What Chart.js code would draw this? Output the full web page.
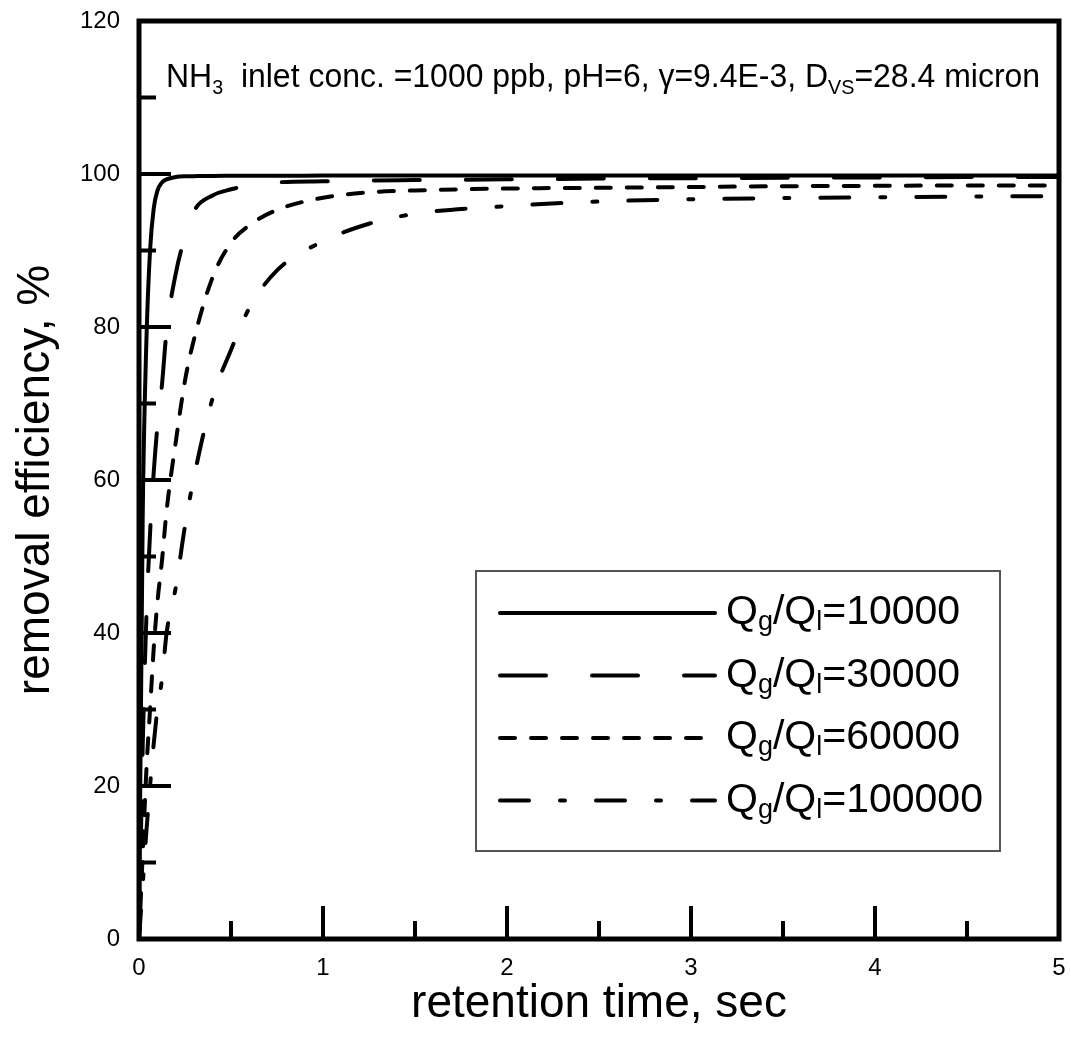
<!DOCTYPE html>
<html>
<head>
<meta charset="utf-8">
<script src="https://cdn.jsdelivr.net/npm/chart.js@4.4.1/dist/chart.umd.min.js"></script>
<style>
  html, body { margin: 0; padding: 0; background: #fff; }
  #wrap { width: 1071px; height: 1037px; position: relative; }
</style>
</head>
<body>
<div id="wrap"><canvas id="removal"></canvas></div>
<script>
(function(){
  // retention time, sec
  const times = [0, 0.02, 0.04, 0.06, 0.08, 0.1, 0.125, 0.15, 0.2, 0.25, 0.3, 0.4, 0.5,
    0.6, 0.75, 1, 1.25, 1.5, 2, 2.5, 3, 3.5, 4, 4.5, 5];

  // removal efficiency, % (one list per Qg/Ql ratio)
  const q10000 = [0, 55, 78, 90, 95.5, 97.8, 98.9, 99.3, 99.6, 99.7, 99.72, 99.75, 99.76,
    99.77, 99.78, 99.79, 99.8, 99.8, 99.8, 99.8, 99.8, 99.8, 99.8, 99.8, 99.8];
  const q30000 = [0, 25, 42, 53, 61, 67, 72.5, 79.5, 87, 91.8, 95.2, 97.2, 98,
    98.5, 98.9, 99.05, 99.15, 99.2, 99.3, 99.4, 99.45, 99.5, 99.55, 99.6, 99.6];
  const q60000 = [0, 11, 22, 30, 38, 44, 49.5, 56, 65, 73, 78.5, 86.5, 91,
    93.3, 95.3, 96.9, 97.6, 97.85, 98.1, 98.2, 98.3, 98.4, 98.45, 98.5, 98.5];
  const q100000 = [0, 7, 14, 20, 25.5, 30, 34, 40, 46, 54, 60.5, 70.7, 77,
    82.5, 87.4, 91.2, 93.5, 94.8, 95.8, 96.4, 96.7, 96.85, 96.95, 97.05, 97.1];

  const ratios = ['10000', '30000', '60000', '100000'];
  const series = [q10000, q30000, q60000, q100000];
  const dashes = [[], [46, 46], [15, 16], [29, 31, 5, 31]];

  const FONT = '"Liberation Sans", Arial, sans-serif';

  function toPoints(vals) {
    return times.map((t, i) => ({x: t, y: vals[i]}));
  }

  // draws text pieces, some of them as subscripts
  function drawRich(ctx, parts, x, y, size, subSize, subDrop) {
    let cx = x;
    parts.forEach(p => {
      ctx.font = (p.sub ? subSize : size) + 'px ' + FONT;
      ctx.fillText(p.t, cx, y + (p.sub ? subDrop : 0));
      cx += ctx.measureText(p.t).width;
    });
  }

  // keep the plot box where it is in the original, labels may overhang
  function noOverhang(s) {
    s.paddingTop = 0;
    s.paddingBottom = 0;
    s.paddingLeft = 0;
    s.paddingRight = 0;
  }

  const framePlugin = {
    id: 'frame',
    afterDatasetsDraw(chart) {
      const ctx = chart.ctx;
      const area = chart.chartArea;
      const xs = chart.scales.x;
      const ys = chart.scales.y;
      ctx.save();
      ctx.strokeStyle = '#000';
      ctx.lineCap = 'butt';

      // inward ticks, major + minor
      ctx.lineWidth = 4;
      ctx.beginPath();
      for (let v = 10; v < ys.max; v += 10) {
        const py = ys.getPixelForValue(v);
        const len = v % 20 === 0 ? 32 : 17;
        ctx.moveTo(area.left, py);
        ctx.lineTo(area.left + len, py);
      }
      for (let v = 0.5; v < xs.max; v += 0.5) {
        const px = xs.getPixelForValue(v);
        const len = Number.isInteger(v) ? 33 : 18;
        ctx.moveTo(px, area.bottom);
        ctx.lineTo(px, area.bottom - len);
      }
      ctx.stroke();

      ctx.lineWidth = 5;
      ctx.strokeRect(area.left, area.top, area.right - area.left, area.bottom - area.top);

      // conditions note
      ctx.fillStyle = '#000';
      ctx.textBaseline = 'alphabetic';
      ctx.textAlign = 'left';
      ctx.save();
      ctx.translate(166, 87);
      ctx.scale(0.94, 1);
      drawRich(ctx, [
        {t: 'NH'}, {t: '3', sub: true}, {t: '  inlet conc. =1000 ppb, pH=6, \u03b3=9.4E-3, D'},
        {t: 'VS', sub: true}, {t: '=28.4 micron'}
      ], 0, 0, 34, 21, 7);
      ctx.restore();

      // legend box
      const box = {x: 476, y: 571, w: 524, h: 280};
      ctx.fillStyle = '#fff';
      ctx.fillRect(box.x, box.y, box.w, box.h);
      ctx.lineWidth = 2;
      ctx.strokeStyle = '#555';
      ctx.strokeRect(box.x, box.y, box.w, box.h);

      chart.data.datasets.forEach((ds, i) => {
        const ly = 613 + i * 62.5;
        ctx.save();
        ctx.strokeStyle = '#000';
        ctx.lineWidth = 4;
        ctx.lineCap = 'round';
        ctx.setLineDash(ds.borderDash);
        ctx.beginPath();
        ctx.moveTo(500, ly);
        ctx.lineTo(715, ly);
        ctx.stroke();
        ctx.restore();
        ctx.fillStyle = '#000';
        drawRich(ctx, [
          {t: 'Q'}, {t: 'g', sub: true}, {t: '/Q'}, {t: 'l', sub: true}, {t: '=' + ratios[i]}
        ], 726, ly + 11, 41, 27, 6);
      });
      ctx.restore();
    }
  };

  const data = {
    datasets: series.map((vals, i) => ({
      label: 'Qg/Ql=' + ratios[i],
      data: toPoints(vals),
      borderColor: '#000',
      borderWidth: 4,
      borderDash: dashes[i],
      borderCapStyle: 'round',
      borderJoinStyle: 'round',
      pointRadius: 0,
      fill: false,
      cubicInterpolationMode: 'monotone',
    }))
  };

  const chartConfig = {
    type: 'line',
    data: data,
    options: {
      responsive: true,
      maintainAspectRatio: false,
      animation: false,
      layout: {
        padding: {top: 21, right: 12, left: 0, bottom: 0}
      },
      plugins: {
        legend: {display: false},
        tooltip: {enabled: false},
      },
      scales: {
        x: {
          type: 'linear',
          min: 0,
          max: 5,
          afterFit: s => { s.height = 98; noOverhang(s); },
          grid: {display: false, drawTicks: false},
          border: {display: false},
          ticks: {
            stepSize: 1,
            padding: 15,
            color: '#000',
            font: {family: FONT, size: 24},
          },
          title: {
            display: true,
            text: 'retention time, sec',
            color: '#000',
            font: {family: FONT, size: 46},
            padding: {top: 0, bottom: 5},
          }
        },
        y: {
          min: 0,
          max: 120,
          afterFit: s => { s.width = 139; noOverhang(s); },
          grid: {display: false, drawTicks: false},
          border: {display: false},
          ticks: {
            stepSize: 20,
            padding: 19,
            color: '#000',
            font: {family: FONT, size: 24},
          },
          title: {
            display: true,
            text: 'removal efficiency, %',
            color: '#000',
            font: {family: FONT, size: 46},
            padding: {top: 9, bottom: 0},
          }
        }
      }
    },
    plugins: [framePlugin]
  };

  new Chart(document.getElementById('removal'), chartConfig);
})();
</script>
</body>
</html>
